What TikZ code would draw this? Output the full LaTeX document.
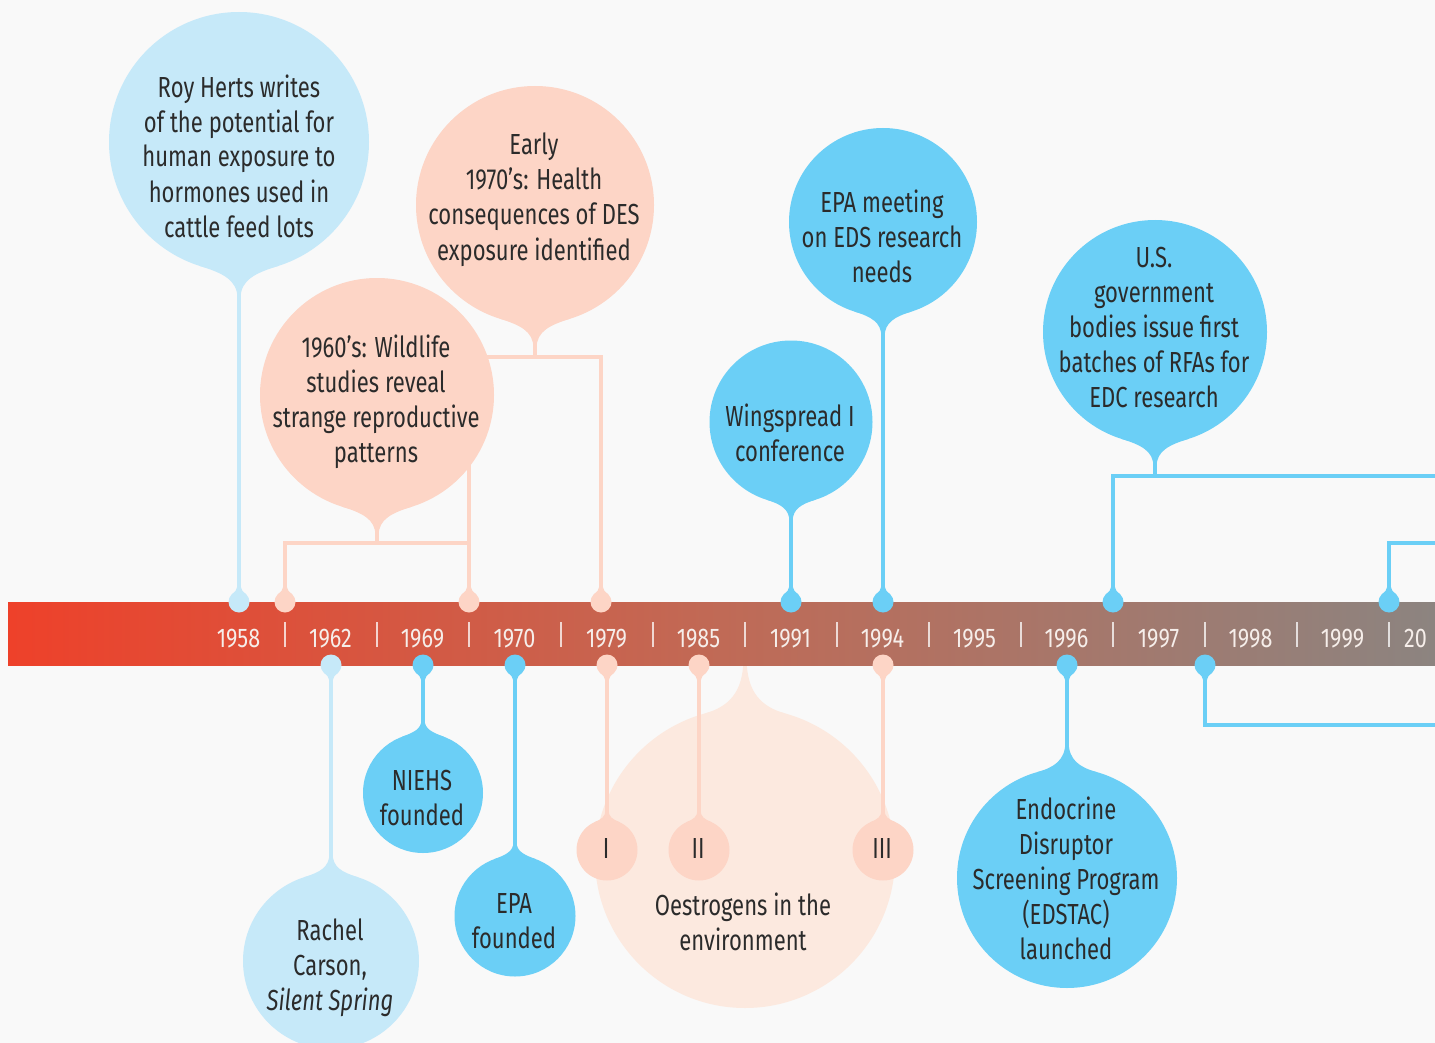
\documentclass[tikz,border=0pt]{standalone}
\usepackage{fontspec}
\setmainfont{Fira Sans}[FakeStretch=0.76]
\newfontfamily\yearfont{Fira Sans}[FakeStretch=0.8]
\usetikzlibrary{calc}

\definecolor{bg}{HTML}{F9F9F9}
\definecolor{sky}{HTML}{C6E9F9}
\definecolor{cyanA}{HTML}{6BCFF6}
\definecolor{peach}{HTML}{FDD5C6}
\definecolor{cream}{HTML}{FCE9DF}
\definecolor{ink}{HTML}{2B2B2B}
\definecolor{yearc}{HTML}{F6EEEA}
\definecolor{barL}{HTML}{EE412A}
\definecolor{barM}{HTML}{C06A56}
\definecolor{barR}{HTML}{8C8480}

% A disc with a flared neck ending in a thin stem.
% #1 x, #2 y, #3 radius, #4 direction (1 = neck downwards, -1 = upwards),
% #5 colour, #6 spread of the flare (fraction of r), #7 neck length (fraction of r)
\newcommand\drop[7]{%
  \pgfmathsetmacro\dropA{#6*#3}%
  \pgfmathsetmacro\dropH{#4*#3*sqrt(1-#6*#6)}%
  \pgfmathsetmacro\dropTx{0.6*#6*abs(\dropH)}%
  \pgfmathsetmacro\dropTy{0.6*#6*\dropA*#4}%
  \pgfmathsetmacro\dropC{-0.7*#7*#3*#4}%
  \pgfmathsetmacro\dropXL{#1-\dropA}%
  \pgfmathsetmacro\dropXR{#1+\dropA}%
  \pgfmathsetmacro\dropYP{#2+\dropH}%
  \pgfmathsetmacro\dropSL{#1-1.6}%
  \pgfmathsetmacro\dropSR{#1+1.6}%
  \pgfmathsetmacro\dropYQ{#2+#4*(1+#7)*#3}%
  \fill[#5] (#1,#2) circle[radius=#3];
  \fill[#5] (\dropXL,\dropYP) .. controls +(\dropTx,\dropTy) and +(0,\dropC) .. (\dropSL,\dropYQ)
     -- (\dropSR,\dropYQ) .. controls +(0,\dropC) and +(-\dropTx,\dropTy) .. (\dropXR,\dropYP) -- cycle;
}
\newcommand\pinup[2]{\drop{#1}{602}{10.5}{-1}{#2}{0.7}{0.5}}
\newcommand\pindown[2]{\drop{#1}{665}{10.5}{1}{#2}{0.7}{0.5}}

\begin{document}
\begin{tikzpicture}[x=1pt,y=-1pt,
  stem/.style={line width=3.2pt},
  txt/.style={font=\fontsize{29}{35}\selectfont, text=ink, align=center, anchor=base, inner sep=0pt},
  year/.style={font=\yearfont\fontsize{27}{30}\selectfont, text=yearc, anchor=base, inner sep=0pt},
  tickmark/.style={draw=white, draw opacity=0.75, line width=2pt}]
\useasboundingbox (0,0) rectangle (1435,1043);
\clip (0,0) rectangle (1435,1043);
\fill[bg] (0,0) rectangle (1435,1043);

% ---- anchor points on the bar
\coordinate (t58) at (239,602);
\coordinate (t60) at (285,602);
\coordinate (t69) at (469,602);
\coordinate (t79) at (601,602);
\coordinate (t91) at (791,602);
\coordinate (t94) at (883,602);
\coordinate (t97) at (1113,602);
\coordinate (t99) at (1389,602);
\coordinate (b62) at (331,665);
\coordinate (b69) at (423,665);
\coordinate (b70) at (515,665);
\coordinate (b79) at (607,665);
\coordinate (b85) at (699,665);
\coordinate (b94) at (883,665);
\coordinate (b96) at (1067,665);
\coordinate (b98) at (1205,665);

% ---- bubble centres
\coordinate (cRoy) at (239,142);
\coordinate (cEarly) at (535,205);
\coordinate (cSixties) at (377,395);
\coordinate (cMeet) at (883,222);
\coordinate (cWing) at (791,422);
\coordinate (cUS) at (1155,332);
\coordinate (cCarson) at (331,961);
\coordinate (cNiehs) at (423,793);
\coordinate (cEpa) at (515,916);
\coordinate (cI) at (607,850);
\coordinate (cII) at (699,850);
\coordinate (cIII) at (883,850);
\coordinate (cEndo) at (1067,878);

% ---- bracket joints and free ends
\coordinate (j60) at (377,543);
\coordinate (j70) at (535,357);
\coordinate (j97) at (1155,476);
\coordinate (e97) at (1445,476);
\coordinate (e99) at (1445,543);
\coordinate (e98) at (1445,725);

% ---- large background disc
\drop{745}{858}{150}{-1}{cream}{0.27}{0.33}

% ---- stems and brackets
\draw[stem,sky] (t58) -- (cRoy);
\draw[stem,peach] (t60) |- (t69 |- j60);
\draw[stem,peach] (j60) -- (cSixties);
\draw[stem,peach] (t69) |- (j70) -- (cEarly);
\draw[stem,peach] (t79) |- (j70);
\draw[stem,cyanA] (t91) -- (cWing);
\draw[stem,cyanA] (t94) -- (cMeet);
\draw[stem,cyanA] (t97) |- (j97) -- (cUS);
\draw[stem,cyanA] (j97) -- (e97);
\draw[stem,cyanA] (t99) |- (e99);
\draw[stem,sky] (b62) -- (cCarson);
\draw[stem,cyanA] (b69) -- (cNiehs);
\draw[stem,cyanA] (b70) -- (cEpa);
\draw[stem,peach] (b79) -- (cI);
\draw[stem,peach] (b85) -- (cII);
\draw[stem,peach] (b94) -- (cIII);
\draw[stem,cyanA] (b96) -- (cEndo);
\draw[stem,cyanA] (b98) |- (e98);

% ---- bubbles
\drop{239}{142}{130}{1}{sky}{0.3}{0.2}
\drop{535}{205}{119}{1}{peach}{0.3}{0.2}
\drop{377}{395}{117}{1}{peach}{0.3}{0.2}
\drop{883}{222}{94}{1}{cyanA}{0.3}{0.22}
\drop{791}{422}{81.5}{1}{cyanA}{0.3}{0.22}
\drop{1155}{332}{112}{1}{cyanA}{0.3}{0.2}
\drop{331}{961}{88}{-1}{sky}{0.3}{0.22}
\drop{423}{793}{60}{-1}{cyanA}{0.35}{0.22}
\drop{515}{916}{60.5}{-1}{cyanA}{0.35}{0.22}
\drop{607}{850}{30.5}{-1}{peach}{0.4}{0.3}
\drop{699}{850}{30.5}{-1}{peach}{0.4}{0.3}
\drop{883}{850}{30.5}{-1}{peach}{0.4}{0.3}
\drop{1067}{878}{110}{-1}{cyanA}{0.27}{0.24}

% ---- timeline bar
\shade[left color=barL, right color=barR, middle color=barM] (8,602) rectangle (1435,665);
\foreach \k in {0,...,12}{
  \draw[tickmark] (284.5+92*\k,622) -- (284.5+92*\k,647);
}
\node[year] (y58) at (238.5,647) {1958};
\node[year] (y62) at (330.5,647) {1962};
\node[year] (y69) at (422.5,647) {1969};
\node[year] (y70) at (514.5,647) {1970};
\node[year] (y79) at (606.5,647) {1979};
\node[year] (y85) at (698.5,647) {1985};
\node[year] (y91) at (790.5,647) {1991};
\node[year] (y94) at (882.5,647) {1994};
\node[year] (y95) at (974.5,647) {1995};
\node[year] (y96) at (1066.5,647) {1996};
\node[year] (y97) at (1158.5,647) {1997};
\node[year] (y98) at (1250.5,647) {1998};
\node[year] (y99) at (1342.5,647) {1999};
\node[year,anchor=base west] (y00) at (1404,647) {20};

% ---- pins
\pinup{239}{sky}
\pinup{285}{peach}
\pinup{469}{peach}
\pinup{601}{peach}
\pinup{791}{cyanA}
\pinup{883}{cyanA}
\pinup{1113}{cyanA}
\pinup{1389}{cyanA}
\pindown{331}{sky}
\pindown{423}{cyanA}
\pindown{515}{cyanA}
\pindown{607}{peach}
\pindown{699}{peach}
\pindown{883}{peach}
\pindown{1067}{cyanA}
\pindown{1205}{cyanA}

% ---- labels (placed by the baseline of their last line)
\node[txt] (roy) at (239,237) {Roy Herts writes\\of the potential for\\human exposure to\\hormones used in\\cattle feed lots};
\node[txt] (early) at (534,260) {Early\\1970’s: Health\\consequences of DES\\exposure identified};
\node[txt] (sixties) at (376,462) {1960’s: Wildlife\\studies reveal\\strange reproductive\\patterns};
\node[txt] (meet) at (882,282) {EPA meeting\\on EDS research\\needs};
\node[txt] (wing) at (790,461) {Wingspread I\\conference};
\node[txt] (us) at (1154,407) {U.S.\\government\\bodies issue first\\batches of RFAs for\\EDC research};
\node[txt] (carson) at (330,1010) {Rachel\\Carson,\\\textit{Silent Spring}};
\node[txt] (niehs) at (422,825) {NIEHS\\founded};
\node[txt] (epa) at (514,948) {EPA\\founded};
\node[txt] (oes) at (743,950) {Oestrogens in the\\environment};
\node[txt] (nI) at (606,858) {I};
\node[txt] (nII) at (698,858) {II};
\node[txt] (nIII) at (882,858) {III};
\node[txt] (endo) at (1066,959) {Endocrine\\Disruptor\\Screening Program\\(EDSTAC)\\launched};
\end{tikzpicture}
\end{document}
